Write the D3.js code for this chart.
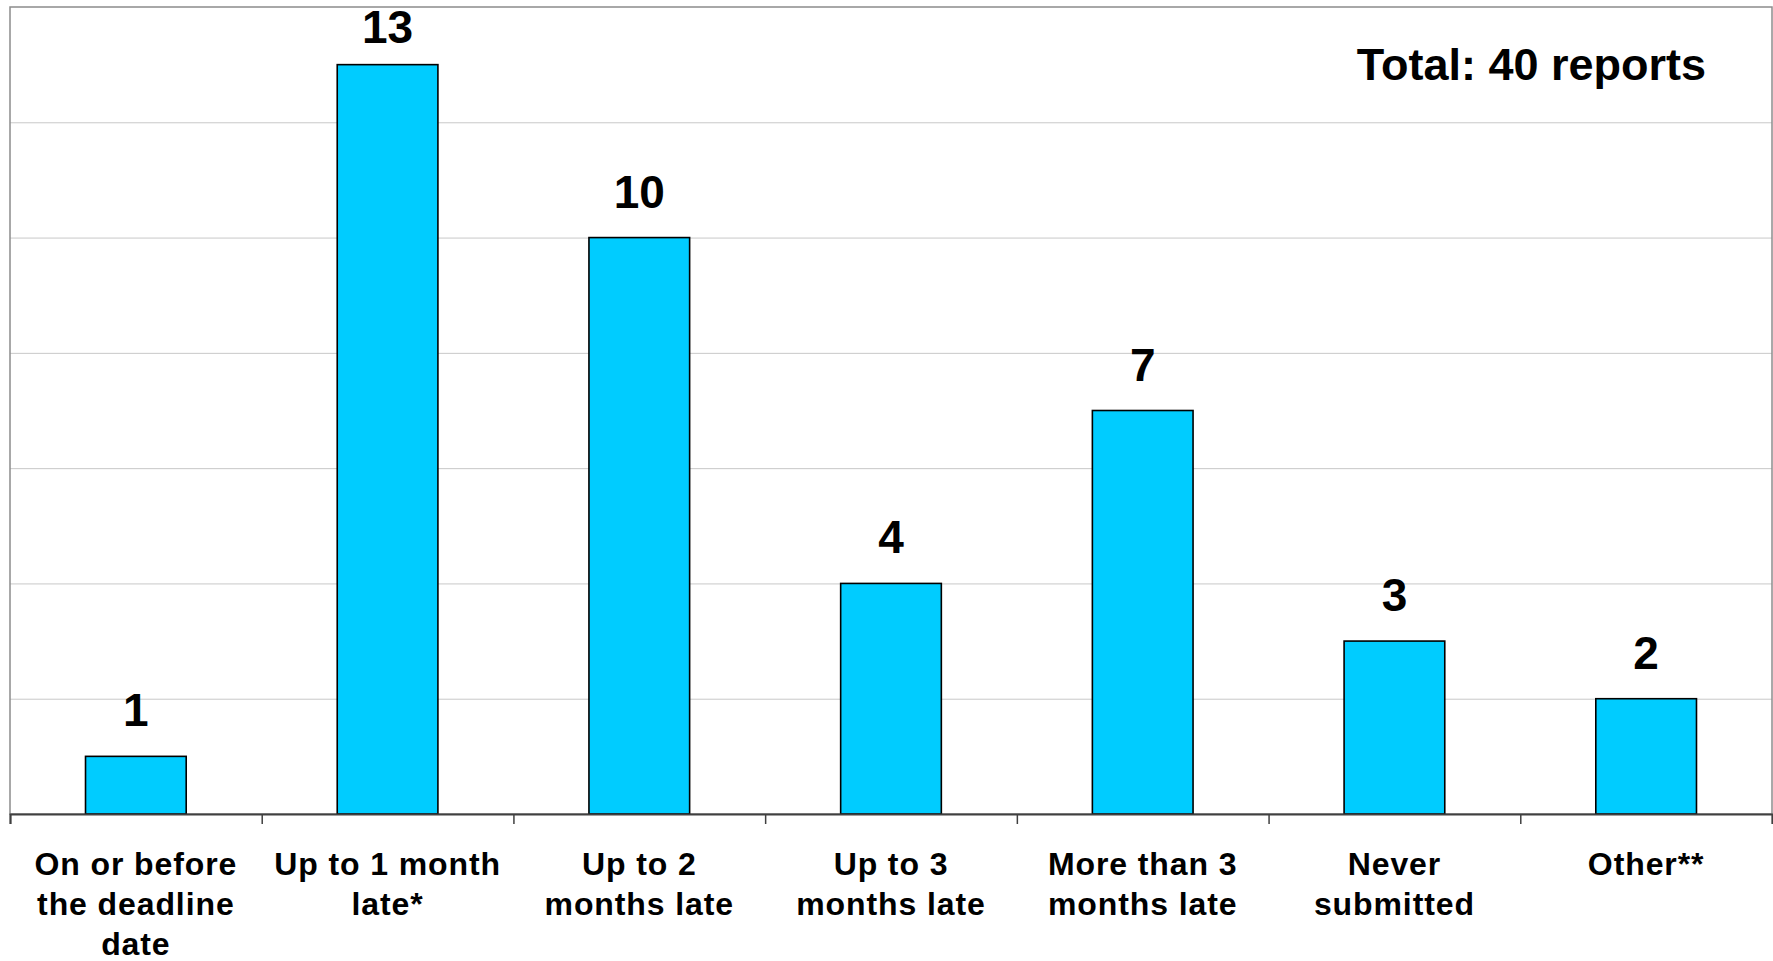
<!DOCTYPE html>
<html>
<head>
<meta charset="utf-8">
<script src="https://cdn.jsdelivr.net/npm/d3@7"></script>
<style>
  body { margin: 0; background: #fff; }
  text { font-family: "Liberation Sans", Arial, sans-serif; font-weight: bold; fill: #000; }
</style>
</head>
<body>
<div id="chart"></div>
<script>
// chart data
var categories = [
    "On or before\nthe deadline\ndate",
    "Up to 1 month\nlate*",
    "Up to 2\nmonths late",
    "Up to 3\nmonths late",
    "More than 3\nmonths late",
    "Never\nsubmitted",
    "Other**"
];
var reports = [1, 13, 10, 4, 7, 3, 2];
var gridValues = [2, 4, 6, 8, 10, 12];
var totalLabel = "Total: 40 reports";

var svgWidth = 1773;
var svgHeight = 961;

// plot area
var margin = { top: 7, right: 1, bottom: 147, left: 10 };
var width = svgWidth - margin.left - margin.right;
var height = svgHeight - margin.top - margin.bottom;

var svg = d3.select("#chart")
    .append("svg")
    .attr("width", svgWidth)
    .attr("height", svgHeight);

var chartGroup = svg.append("g")
    .attr("transform", `translate(${margin.left}, ${margin.top})`);

// scales
var xBand = d3.scaleBand()
    .domain(categories)
    .range([0, width])
    .paddingInner(0.6)
    .paddingOuter(0.3);

var xIndex = d3.scaleLinear()
    .domain([0, categories.length])
    .range([0, width]);

var yLinearScale = d3.scaleLinear()
    .domain([0, 14])
    .range([height, 0]);

// gridlines
var grid = chartGroup.append("g")
    .call(d3.axisLeft(yLinearScale).tickValues(gridValues).tickSize(-width).tickFormat(""));
grid.select(".domain").remove();
grid.selectAll("line").attr("stroke", "#c8c8c8").attr("stroke-width", 1);

// frame
chartGroup.append("rect")
    .attr("x", 0)
    .attr("y", 0)
    .attr("width", width)
    .attr("height", height)
    .attr("fill", "none")
    .attr("stroke", "#8c8c8c")
    .attr("stroke-width", 1.5);

// bars
chartGroup.append("g").selectAll("rect")
    .data(reports)
    .enter()
    .append("rect")
    .attr("x", (d, i) => xBand(categories[i]))
    .attr("y", d => yLinearScale(d))
    .attr("width", xBand.bandwidth())
    .attr("height", d => height - yLinearScale(d))
    .attr("fill", "#00ccff")
    .attr("stroke", "#000")
    .attr("stroke-width", 1.6);

// value labels
chartGroup.append("g").selectAll("text")
    .data(reports)
    .enter()
    .append("text")
    .attr("x", (d, i) => xBand(categories[i]) + xBand.bandwidth() / 2)
    .attr("y", d => Math.max(yLinearScale(d) - 30, 36))
    .attr("text-anchor", "middle")
    .attr("font-size", 46)
    .text(d => d);

// bottom axis with ticks at category boundaries
var tickAxis = chartGroup.append("g")
    .attr("transform", `translate(0, ${height})`)
    .call(d3.axisBottom(xIndex).tickValues(d3.range(categories.length + 1)).tickSize(10).tickFormat(""));
tickAxis.select(".domain").attr("stroke", "#404040").attr("stroke-width", 2);
tickAxis.selectAll("line").attr("stroke", "#404040").attr("stroke-width", 1.5);

// category labels
var labelGroup = chartGroup.append("g")
    .attr("transform", `translate(0, ${height})`);
categories.forEach(function(c, i) {
    var t = labelGroup.append("text")
        .attr("x", xBand(c) + xBand.bandwidth() / 2)
        .attr("y", 61)
        .attr("text-anchor", "middle")
        .attr("font-size", 32)
        .attr("letter-spacing", 0.9);
    c.split("\n").forEach(function(line, j) {
        t.append("tspan")
            .attr("x", xBand(c) + xBand.bandwidth() / 2)
            .attr("dy", j === 0 ? 0 : 40)
            .text(line);
    });
});

// total annotation
chartGroup.append("text")
    .attr("x", 1696)
    .attr("y", 73)
    .attr("text-anchor", "end")
    .attr("font-size", 45)
    .text(totalLabel);
</script>
</body>
</html>
